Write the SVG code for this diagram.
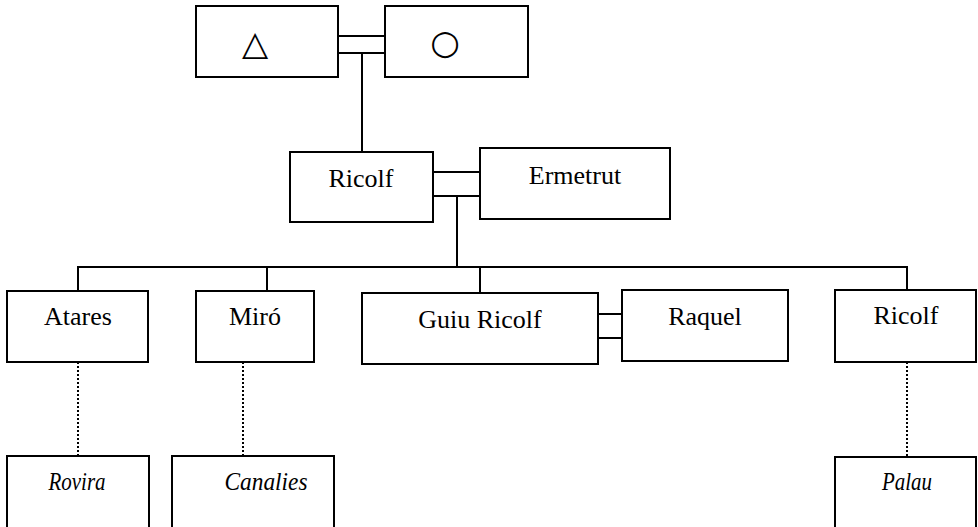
<svg xmlns="http://www.w3.org/2000/svg" width="978" height="527" viewBox="0 0 978 527">
<style>
.box{fill:#fff;stroke:#000;stroke-width:2}
.ln{fill:none;stroke:#000;stroke-width:2}
.dot{fill:none;stroke:#000;stroke-width:2;stroke-dasharray:2 2}
.t{font-size:26px;fill:#000;text-anchor:middle}
.ti{font-size:25px;font-style:italic;fill:#000;text-anchor:middle}
.sym{font-size:34px;fill:#000;text-anchor:middle}
</style>
<rect width="978" height="527" fill="#fff"/>
<g id="connectors">
<line class="ln" x1="338" y1="36" x2="385" y2="36"/>
<line class="ln" x1="338" y1="53" x2="385" y2="53"/>
<line class="ln" x1="362" y1="53" x2="362" y2="152"/>
<line class="ln" x1="433" y1="172" x2="480" y2="172"/>
<line class="ln" x1="433" y1="196" x2="480" y2="196"/>
<line class="ln" x1="457" y1="196" x2="457" y2="267"/>
<line class="ln" x1="77" y1="267" x2="908" y2="267"/>
<line class="ln" x1="78" y1="267" x2="78" y2="291"/>
<line class="ln" x1="267" y1="267" x2="267" y2="291"/>
<line class="ln" x1="480" y1="267" x2="480" y2="293"/>
<line class="ln" x1="907" y1="267" x2="907" y2="290"/>
<line class="ln" x1="598" y1="314" x2="622" y2="314"/>
<line class="ln" x1="598" y1="338" x2="622" y2="338"/>
<line class="dot" x1="78" y1="362" x2="78" y2="456"/>
<line class="dot" x1="243" y1="362" x2="243" y2="456"/>
<line class="dot" x1="907" y1="362" x2="907" y2="457"/>
</g>
<g id="father">
<rect class="box" x="196" y="6" width="142" height="71"/>
<text class="sym" font-family="DejaVu Sans, sans-serif" x="255" y="55">△</text>
</g>
<g id="mother">
<rect class="box" x="385" y="6" width="143" height="71"/>
<text class="sym" font-family="DejaVu Sans, sans-serif" x="445" y="54">○</text>
</g>
<g id="ricolf">
<rect class="box" x="290" y="152" width="143" height="70"/>
<text class="t" font-family="Liberation Serif, serif" x="361" y="187">Ricolf</text>
</g>
<g id="ermetrut">
<rect class="box" x="480" y="148" width="190" height="71"/>
<text class="t" font-family="Liberation Serif, serif" x="575" y="184">Ermetrut</text>
</g>
<g id="atares">
<rect class="box" x="7" y="291" width="141" height="71"/>
<text class="t" font-family="Liberation Serif, serif" x="78" y="325">Atares</text>
</g>
<g id="miro">
<rect class="box" x="196" y="291" width="118" height="71"/>
<text class="t" font-family="Liberation Serif, serif" x="255" y="325">Miró</text>
</g>
<g id="guiu-ricolf">
<rect class="box" x="362" y="293" width="236" height="71"/>
<text class="t" font-family="Liberation Serif, serif" x="480" y="328">Guiu Ricolf</text>
</g>
<g id="raquel">
<rect class="box" x="622" y="290" width="166" height="71"/>
<text class="t" font-family="Liberation Serif, serif" x="705" y="325">Raquel</text>
</g>
<g id="ricolf2">
<rect class="box" x="835" y="290" width="141" height="72"/>
<text class="t" font-family="Liberation Serif, serif" x="906" y="324">Ricolf</text>
</g>
<g id="rovira">
<rect class="box" x="7" y="456" width="142" height="74"/>
<text class="ti" font-family="Liberation Serif, serif" x="77" y="490" textLength="57" lengthAdjust="spacingAndGlyphs">Rovira</text>
</g>
<g id="canalies">
<rect class="box" x="172" y="456" width="162" height="74"/>
<text class="ti" font-family="Liberation Serif, serif" x="266" y="490" textLength="83" lengthAdjust="spacingAndGlyphs">Canalies</text>
</g>
<g id="palau">
<rect class="box" x="835" y="457" width="141" height="73"/>
<text class="ti" font-family="Liberation Serif, serif" x="907" y="490" textLength="50" lengthAdjust="spacingAndGlyphs">Palau</text>
</g>
</svg>
